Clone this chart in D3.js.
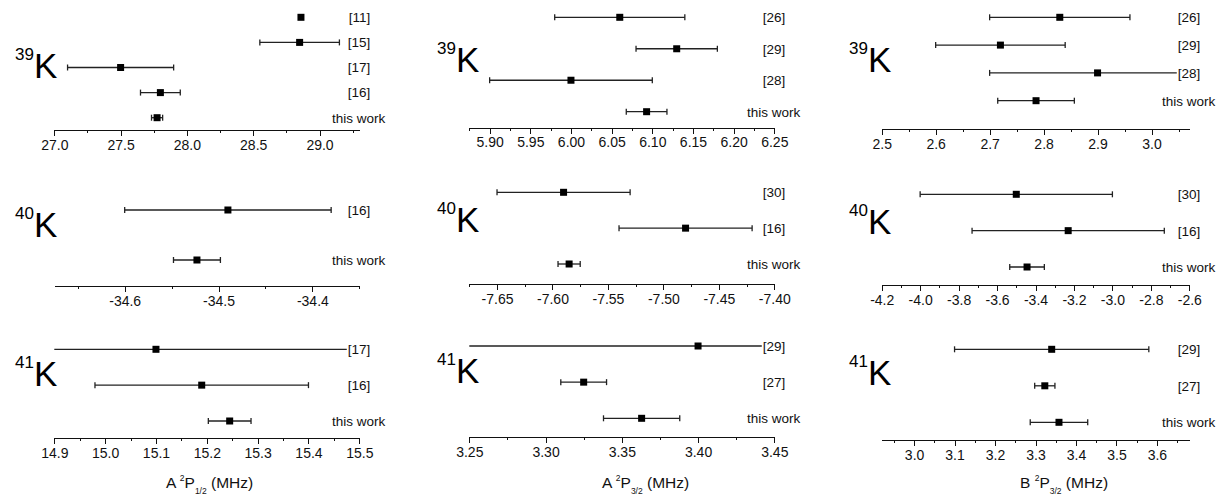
<!DOCTYPE html>
<html>
<head>
<meta charset="utf-8">
<script src="https://cdn.jsdelivr.net/npm/d3@7"></script>
<style>
  body { margin: 0; background: #fff; }
  svg { display: block; font-family: "Liberation Sans", Arial, sans-serif; }
</style>
</head>
<body>
<svg id="chart" width="1232" height="499"></svg>
<script>
// data (value, +/- error), one block per panel

// 39K  A 2P1/2
var k39A12Refs = ["[11]", "[15]", "[17]", "[16]", "this work"];
var k39A12Vals = [28.86, 28.85, 27.5, 27.8, 27.775];
var k39A12Errs = [0, 0.3, 0.4, 0.15, 0.042];
var k39A12Ticks = [27.0, 27.5, 28.0, 28.5, 29.0];

// 39K  A 2P3/2
var k39A32Refs = ["[26]", "[29]", "[28]", "this work"];
var k39A32Vals = [6.06, 6.13, 6.00, 6.093];
var k39A32Errs = [0.08, 0.05, 0.1, 0.025];
var k39A32Ticks = [5.90, 5.95, 6.00, 6.05, 6.10, 6.15, 6.20, 6.25];

// 39K  B 2P3/2
var k39B32Refs = ["[26]", "[29]", "[28]", "this work"];
var k39B32Vals = [2.83, 2.72, 2.90, 2.786];
var k39B32Errs = [0.13, 0.12, 0.2, 0.071];
var k39B32Ticks = [2.5, 2.6, 2.7, 2.8, 2.9, 3.0];

// 40K  A 2P1/2
var k40A12Refs = ["[16]", "this work"];
var k40A12Vals = [-34.49, -34.523];
var k40A12Errs = [0.11, 0.025];
var k40A12Ticks = [-34.6, -34.5, -34.4];

// 40K  A 2P3/2
var k40A32Refs = ["[30]", "[16]", "this work"];
var k40A32Vals = [-7.59, -7.48, -7.585];
var k40A32Errs = [0.06, 0.06, 0.01];
var k40A32Ticks = [-7.65, -7.60, -7.55, -7.50, -7.45, -7.40];

// 40K  B 2P3/2
var k40B32Refs = ["[30]", "[16]", "this work"];
var k40B32Vals = [-3.5, -3.23, -3.444];
var k40B32Errs = [0.5, 0.5, 0.09];
var k40B32Ticks = [-4.2, -4.0, -3.8, -3.6, -3.4, -3.2, -3.0, -2.8, -2.6];

// 41K  A 2P1/2
var k41A12Refs = ["[17]", "[16]", "this work"];
var k41A12Vals = [15.1, 15.19, 15.245];
var k41A12Errs = [0.4, 0.21, 0.042];
var k41A12Ticks = [14.9, 15.0, 15.1, 15.2, 15.3, 15.4, 15.5];

// 41K  A 2P3/2
var k41A32Refs = ["[29]", "[27]", "this work"];
var k41A32Vals = [3.40, 3.325, 3.363];
var k41A32Errs = [0.2, 0.015, 0.025];
var k41A32Ticks = [3.25, 3.30, 3.35, 3.40, 3.45];

// 41K  B 2P3/2
var k41B32Refs = ["[29]", "[27]", "this work"];
var k41B32Vals = [3.34, 3.323, 3.358];
var k41B32Errs = [0.24, 0.025, 0.071];
var k41B32Ticks = [3.0, 3.1, 3.2, 3.3, 3.4, 3.5, 3.6];

// layout
var cols = [
  { x0: 54.3, x1: 359.3, kx: 15, titleX: 166 },
  { x0: 469.3, x1: 774.3, kx: 437, titleX: 602 },
  { x0: 881.7, x1: 1189.3, kx: 849, titleX: 1020 }
];

var panels = [
  { col: 0, iso: "39", refs: k39A12Refs, vals: k39A12Vals, errs: k39A12Errs, ticks: k39A12Ticks,
    domain: [27.0, 29.3], fmt: ".1f", axisY: 130, rows: [17.3, 117.7], kY: 78 },
  { col: 1, iso: "39", refs: k39A32Refs, vals: k39A32Vals, errs: k39A32Errs, ticks: k39A32Ticks,
    domain: [5.875, 6.25], fmt: ".2f", axisY: 127.5, rows: [17.3, 111.7], kY: 72 },
  { col: 2, iso: "39", refs: k39B32Refs, vals: k39B32Vals, errs: k39B32Errs, ticks: k39B32Ticks,
    domain: [2.5, 3.07], fmt: ".1f", axisY: 129, rows: [17.3, 100.7], kY: 72 },
  { col: 0, iso: "40", refs: k40A12Refs, vals: k40A12Vals, errs: k40A12Errs, ticks: k40A12Ticks,
    domain: [-34.675, -34.35], fmt: ".1f", axisY: 285.7, rows: [210, 260], kY: 236.5 },
  { col: 1, iso: "40", refs: k40A32Refs, vals: k40A32Vals, errs: k40A32Errs, ticks: k40A32Ticks,
    domain: [-7.675, -7.40], fmt: ".2f", axisY: 284.3, rows: [192.3, 264], kY: 232 },
  { col: 2, iso: "40", refs: k40B32Refs, vals: k40B32Vals, errs: k40B32Errs, ticks: k40B32Ticks,
    domain: [-4.2, -2.6], fmt: ".1f", axisY: 285, rows: [194.3, 267], kY: 233.5 },
  { col: 0, iso: "41", refs: k41A12Refs, vals: k41A12Vals, errs: k41A12Errs, ticks: k41A12Ticks,
    domain: [14.9, 15.5], fmt: ".1f", axisY: 438.3, rows: [349.3, 421], kY: 386,
    title: ["A ", "2", "P", "1/2", " (MHz)"] },
  { col: 1, iso: "41", refs: k41A32Refs, vals: k41A32Vals, errs: k41A32Errs, ticks: k41A32Ticks,
    domain: [3.25, 3.45], fmt: ".2f", axisY: 436.7, rows: [346, 418.3], kY: 382.5,
    title: ["A ", "2", "P", "3/2", " (MHz)"] },
  { col: 2, iso: "41", refs: k41B32Refs, vals: k41B32Vals, errs: k41B32Errs, ticks: k41B32Ticks,
    domain: [2.92, 3.68], fmt: ".1f", axisY: 440, rows: [349.3, 422.3], kY: 385,
    title: ["B ", "2", "P", "3/2", " (MHz)"] }
];

var svg = d3.select("#chart");
var ink = "#111";

panels.forEach(function (p) {
  var c = cols[p.col];
  var g = svg.append("g");

  var x = d3.scaleLinear().domain(p.domain).range([c.x0, c.x1]);
  var y = d3.scalePoint().domain(p.refs).range(p.rows);
  var fmt = function (v) { return d3.format(p.fmt)(v).replace("\u2212", "-"); };

  // minor ticks sit half way between the major ones
  var step = p.ticks[1] - p.ticks[0];
  var minor = [];
  p.ticks.forEach(function (t, i) {
    [t - step / 2, t + step / 2].forEach(function (m) {
      if (m >= p.domain[0] - 1e-9 && m <= p.domain[1] + 1e-9) minor.push(m);
    });
  });

  g.append("g")
    .attr("transform", "translate(0," + p.axisY + ")")
    .call(d3.axisBottom(x).tickValues(minor).tickSize(3).tickFormat(""))
    .call(function (a) { a.select(".domain").remove(); });

  var ax = g.append("g")
    .attr("transform", "translate(0," + p.axisY + ")")
    .call(d3.axisBottom(x).tickValues(p.ticks).tickFormat(fmt)
      .tickSize(6).tickSizeOuter(0).tickPadding(4));
  ax.selectAll("text")
    .attr("font-size", 14)
    .attr("font-family", "Liberation Sans, Arial, sans-serif")
    .attr("fill", ink);
  g.selectAll(".tick line, .domain").attr("stroke", ink).attr("shape-rendering", "crispEdges");

  var data = p.refs.map(function (r, i) {
    return { ref: r, v: p.vals[i], e: p.errs[i] };
  });

  // error bars, clipped to the axis range
  data.forEach(function (d) {
    var cy = y(d.ref);
    if (d.e > 0) {
      var lo = Math.max(d.v - d.e, p.domain[0]);
      var hi = Math.min(d.v + d.e, p.domain[1]);
      g.append("line")
        .attr("x1", x(lo)).attr("x2", x(hi))
        .attr("y1", cy).attr("y2", cy)
        .attr("stroke", "#222").attr("stroke-width", 1.3);
      [[d.v - d.e, lo], [d.v + d.e, hi]].forEach(function (pair) {
        if (pair[0] !== pair[1]) return;
        g.append("line")
          .attr("x1", x(pair[0])).attr("x2", x(pair[0]))
          .attr("y1", cy - 3).attr("y2", cy + 3)
          .attr("stroke", "#222").attr("stroke-width", 1.3);
      });
    }
    g.append("rect")
      .attr("x", x(d.v) - 3.5).attr("y", cy - 3.5)
      .attr("width", 7).attr("height", 7)
      .attr("fill", "#000");
  });

  // reference labels with a white backing, as in the original
  data.forEach(function (d) {
    var lx = d.ref === "this work" ? c.x1 + 26 : c.x1 + 11;
    var t = g.append("text")
      .attr("x", lx).attr("y", y(d.ref))
      .attr("dy", "0.36em")
      .attr("text-anchor", "end")
      .attr("font-size", 13.5)
      .attr("fill", ink)
      .text(d.ref);
    var bb = t.node().getBBox();
    g.insert("rect", function () { return t.node(); })
      .attr("x", bb.x - 1).attr("y", bb.y)
      .attr("width", bb.width + 2).attr("height", bb.height)
      .attr("fill", "#fff");
  });

  // isotope label
  var k = g.append("text")
    .attr("x", c.kx).attr("y", p.kY)
    .attr("fill", "#000");
  k.append("tspan").attr("font-size", 17).attr("dy", -18).text(p.iso);
  k.append("tspan").attr("font-size", 35).attr("dy", 18).text("K");

  // axis title on the bottom row
  if (p.title) {
    var tt = g.append("text")
      .attr("x", c.titleX).attr("y", 488)
      .attr("font-size", 15.5)
      .attr("fill", ink);
    tt.append("tspan").text(p.title[0]);
    tt.append("tspan").attr("font-size", 8.5).attr("dy", -7).text(p.title[1]);
    tt.append("tspan").attr("dy", 7).text(p.title[2]);
    tt.append("tspan").attr("font-size", 8.5).attr("dy", 5.5).text(p.title[3]);
    tt.append("tspan").attr("dy", -5.5).text(p.title[4]);
  }
});
</script>
</body>
</html>
